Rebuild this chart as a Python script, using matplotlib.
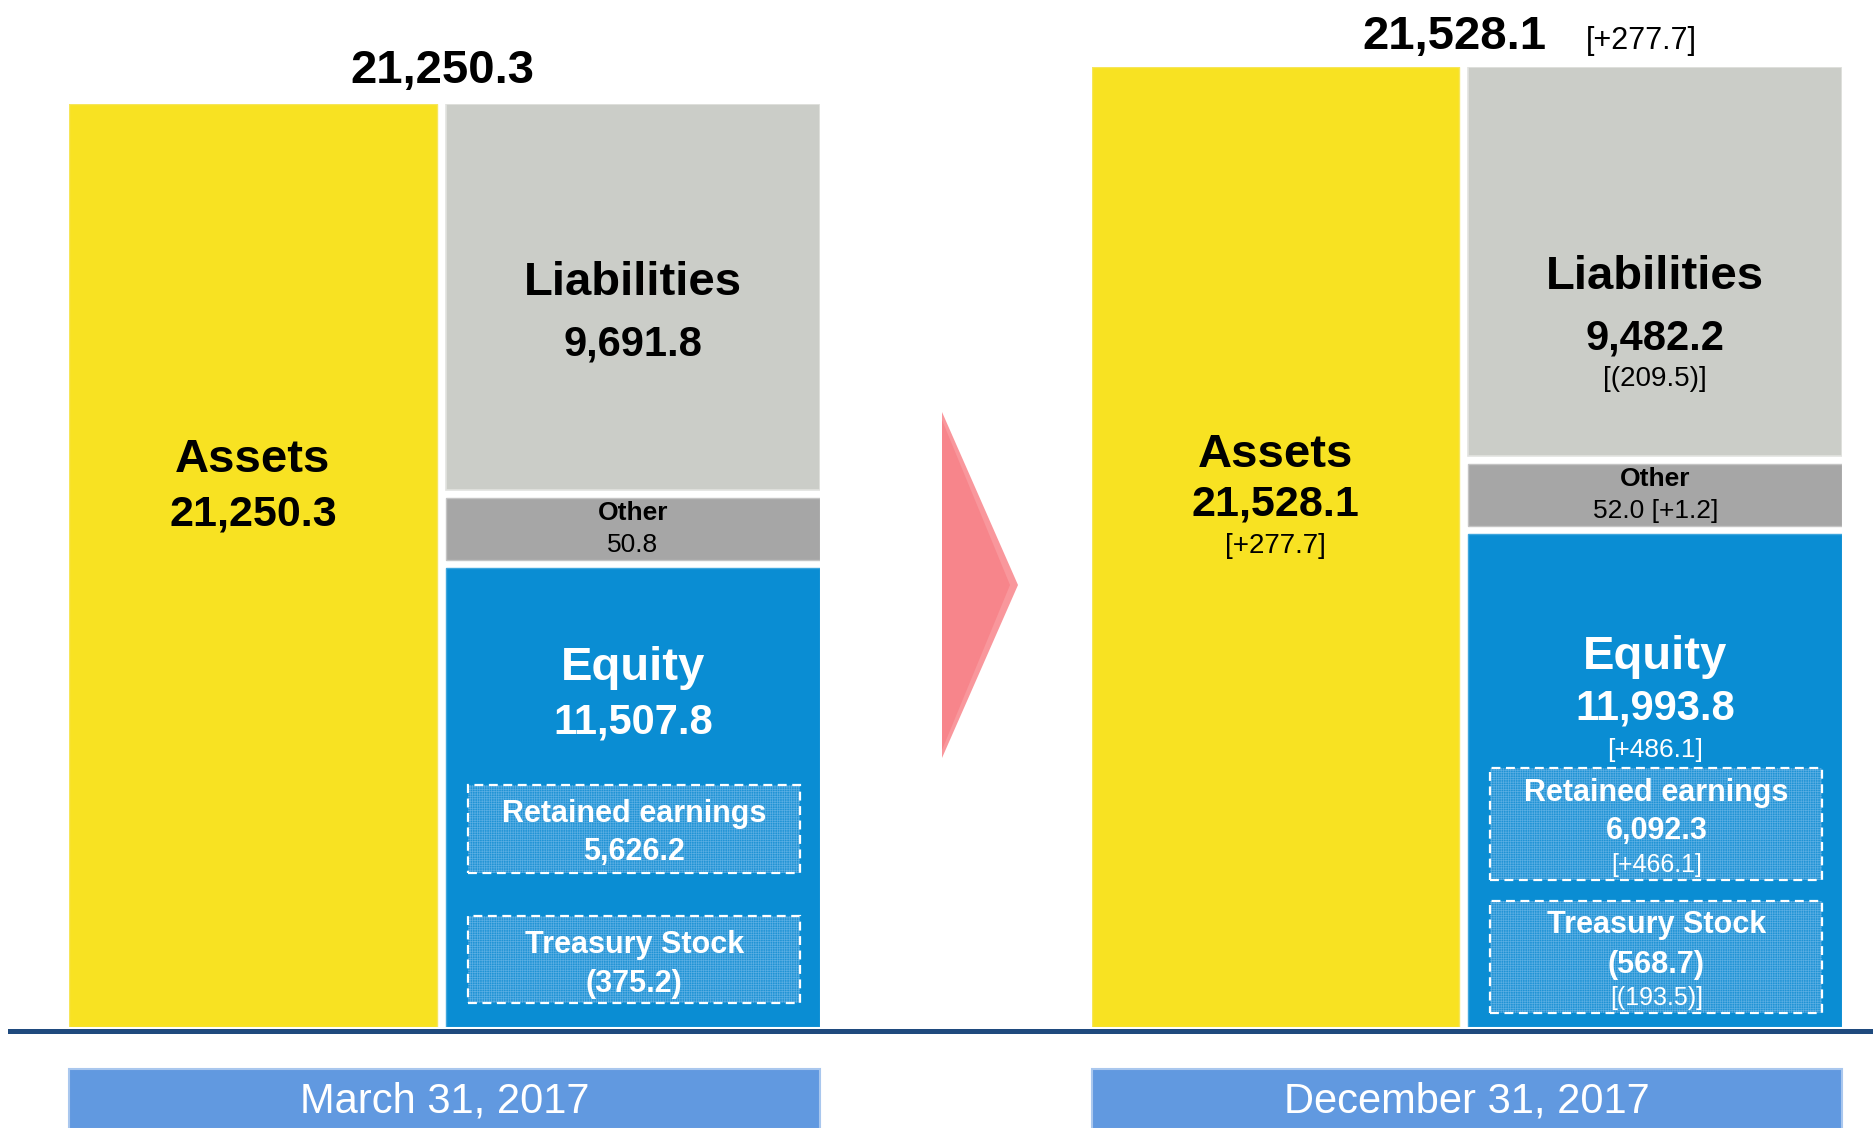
import matplotlib
matplotlib.use("Agg")
import matplotlib.pyplot as plt
from matplotlib.patches import Rectangle, Polygon
from matplotlib.lines import Line2D

plt.rcParams["font.family"] = ["Liberation Sans", "DejaVu Sans"]
plt.rcParams["hatch.linewidth"] = 0.5

# ---------------- data (billions of yen) ----------------
periods = ["March 31, 2017", "December 31, 2017"]
assets = [21250.3, 21528.1]
liabilities = [9691.8, 9482.2]
other = [50.8, 52.0]
equity = [11507.8, 11993.8]
retained_earnings = [5626.2, 6092.3]
treasury_stock = [-375.2, -568.7]
# change versus March 31, 2017 (None = base period)
assets_chg = [None, 277.7]
liabilities_chg = [None, -209.5]
other_chg = [None, 1.2]
equity_chg = [None, 486.1]
retained_chg = [None, 466.1]
treasury_chg = [None, -193.5]

# ---------------- style / layout ----------------
W, H, DPI = 1874, 1128, 100
YELLOW = "#F8E222"
LGRAY = "#CBCDC8"
MGRAY = "#A6A6A6"
BLUE = "#0A8DD3"
BOXFILL = "#1F93D5"
HATCH = "#5AAEE3"
DATEBLUE = "#6199E0"
NAVY = "#1F4A7E"

GAP_PX = 8
OTHER_MIN_PX = 62
ASSET_X0, ASSET_W = 0.0, 0.490
COL_X0, COL_W = 0.502, 0.498
BOX_X0, BOX_W = 0.531, 0.443

# pixel layout of each panel (x extents, top/bottom) and baselines of its labels
layout = [
    dict(x0=69, x1=820, top=104, bottom=1027,
         total_x=0.497, total_base=83, delta_x=None,
         liab=(295, 355, None), assets_t=(472, 525, None), eq=(680, 733, None),
         re_box=(785, 873), re_t=(822, 860, None),
         ts_box=(916, 1003), ts_t=(953, 992, None)),
    dict(x0=1092, x1=1842, top=67, bottom=1027,
         total_x=0.483, total_base=49, delta_x=0.732,
         liab=(289, 349, 386), assets_t=(467, 515, 553), eq=(669, 719, 757),
         re_box=(768, 880), re_t=(801, 839, 872),
         ts_box=(901, 1013), ts_t=(933, 973, 1005)),
]


def num(v):
    return f"({abs(v):,.1f})" if v < 0 else f"{v:,.1f}"


def chg(v):
    return f"[({abs(v):,.1f})]" if v < 0 else f"[+{v:,.1f}]"


fig = plt.figure(figsize=(W / DPI, H / DPI), dpi=DPI)


def fx(x):
    return x / W


def fy(y):
    return 1 - y / H


for i, L in enumerate(layout):
    ax = fig.add_axes([fx(L["x0"]), fy(L["bottom"]),
                       (L["x1"] - L["x0"]) / W, (L["bottom"] - L["top"]) / H])
    ax.set_xlim(0, 1)
    ax.set_ylim(0, assets[i])
    ax.axis("off")
    ppu = (L["bottom"] - L["top"]) / assets[i]

    def yd(px):
        return (L["bottom"] - px) / ppu

    gap = GAP_PX / ppu
    other_d = max(other[i], OTHER_MIN_PX / ppu)
    rest = assets[i] - 2 * gap - other_d
    liab_d = rest * liabilities[i] / (liabilities[i] + equity[i])
    eq_d = rest - liab_d

    # bars
    ax.bar(ASSET_X0, assets[i], width=ASSET_W, align="edge", color=YELLOW,
           edgecolor="#F6E65A", linewidth=1)
    ax.bar(COL_X0, eq_d, width=COL_W, align="edge", bottom=0, color=BLUE,
           edgecolor="#3FA6DD", linewidth=1)
    ax.bar(COL_X0, other_d, width=COL_W, align="edge", bottom=eq_d + gap,
           color=MGRAY, edgecolor="#C4C4C4", linewidth=1)
    ax.bar(COL_X0, liab_d, width=COL_W, align="edge",
           bottom=eq_d + 2 * gap + other_d, color=LGRAY,
           edgecolor="#E2E3E0", linewidth=1.2)

    acx = ASSET_X0 + ASSET_W / 2
    ccx = COL_X0 + COL_W / 2

    def txt(x, y, s, size, weight="bold", color="black"):
        ax.text(x, y, s, ha="center", va="baseline", fontsize=size,
                fontweight=weight, color=color, clip_on=False)

    # total above
    txt(L["total_x"], yd(L["total_base"]), num(assets[i]), 34)
    if L["delta_x"] is not None and assets_chg[i] is not None:
        txt(L["delta_x"], yd(L["total_base"]), chg(assets_chg[i]), 22, "normal")

    # assets
    txt(acx, yd(L["assets_t"][0]), "Assets", 34)
    txt(acx, yd(L["assets_t"][1]), num(assets[i]), 31)
    if assets_chg[i] is not None:
        txt(acx, yd(L["assets_t"][2]), chg(assets_chg[i]), 20, "normal")

    # liabilities
    txt(ccx, yd(L["liab"][0]), "Liabilities", 34)
    txt(ccx, yd(L["liab"][1]), num(liabilities[i]), 30)
    if liabilities_chg[i] is not None:
        txt(ccx, yd(L["liab"][2]), chg(liabilities_chg[i]), 20, "normal")

    # other
    oc = eq_d + gap + other_d / 2
    txt(ccx, oc + 9 / ppu, "Other", 19)
    o_s = num(other[i]) + (" " + chg(other_chg[i]) if other_chg[i] is not None else "")
    txt(ccx, oc - 23 / ppu, o_s, 19, "normal")

    # equity
    txt(ccx, yd(L["eq"][0]), "Equity", 34, color="white")
    txt(ccx, yd(L["eq"][1]), num(equity[i]), 30, color="white")
    if equity_chg[i] is not None:
        txt(ccx, yd(L["eq"][2]), chg(equity_chg[i]), 19, "normal", "white")

    # dashed breakdown boxes
    for box, tpos, title, val, dval in [
        (L["re_box"], L["re_t"], "Retained earnings", retained_earnings[i], retained_chg[i]),
        (L["ts_box"], L["ts_t"], "Treasury Stock", treasury_stock[i], treasury_chg[i]),
    ]:
        y0 = yd(box[1])
        h = (box[1] - box[0]) / ppu
        ax.add_patch(Rectangle((BOX_X0, y0), BOX_W, h, facecolor=BOXFILL,
                               edgecolor=HATCH, linewidth=0, hatch="+++++++"))
        ax.add_patch(Rectangle((BOX_X0, y0), BOX_W, h, fill=False,
                               edgecolor="white", linewidth=1.6,
                               linestyle=(0, (4, 2.5))))
        txt(BOX_X0 + BOX_W / 2, yd(tpos[0]), title, 22, color="white")
        txt(BOX_X0 + BOX_W / 2, yd(tpos[1]), num(val), 22, color="white")
        if dval is not None:
            txt(BOX_X0 + BOX_W / 2, yd(tpos[2]), chg(dval), 18, "normal", "white")

    # date label box
    fig.add_artist(Rectangle((fx(L["x0"]), fy(1129)), (L["x1"] - L["x0"]) / W,
                             (1129 - 1069) / H, transform=fig.transFigure,
                             facecolor=DATEBLUE, edgecolor="#A9C7EE", linewidth=1.5))
    fig.text(fx((L["x0"] + L["x1"]) / 2), fy(1112), periods[i], ha="center",
             va="baseline", fontsize=30, color="white")

# baseline rule
fig.add_artist(Line2D([fx(10), 1.0], [fy(1030.5), fy(1030.5)], transform=fig.transFigure,
                      color=NAVY, linewidth=3.6))

# arrow between the periods
fig.add_artist(Polygon([(fx(942), fy(412)), (fx(1018), fy(585)), (fx(942), fy(758))],
                       closed=True, transform=fig.transFigure, facecolor="#F9979C",
                       edgecolor="none"))
fig.add_artist(Polygon([(fx(942), fy(420)), (fx(1010), fy(585)), (fx(942), fy(750))],
                       closed=True, transform=fig.transFigure, facecolor="#F7858B",
                       edgecolor="none"))

fig.savefig("out.png", dpi=DPI)
